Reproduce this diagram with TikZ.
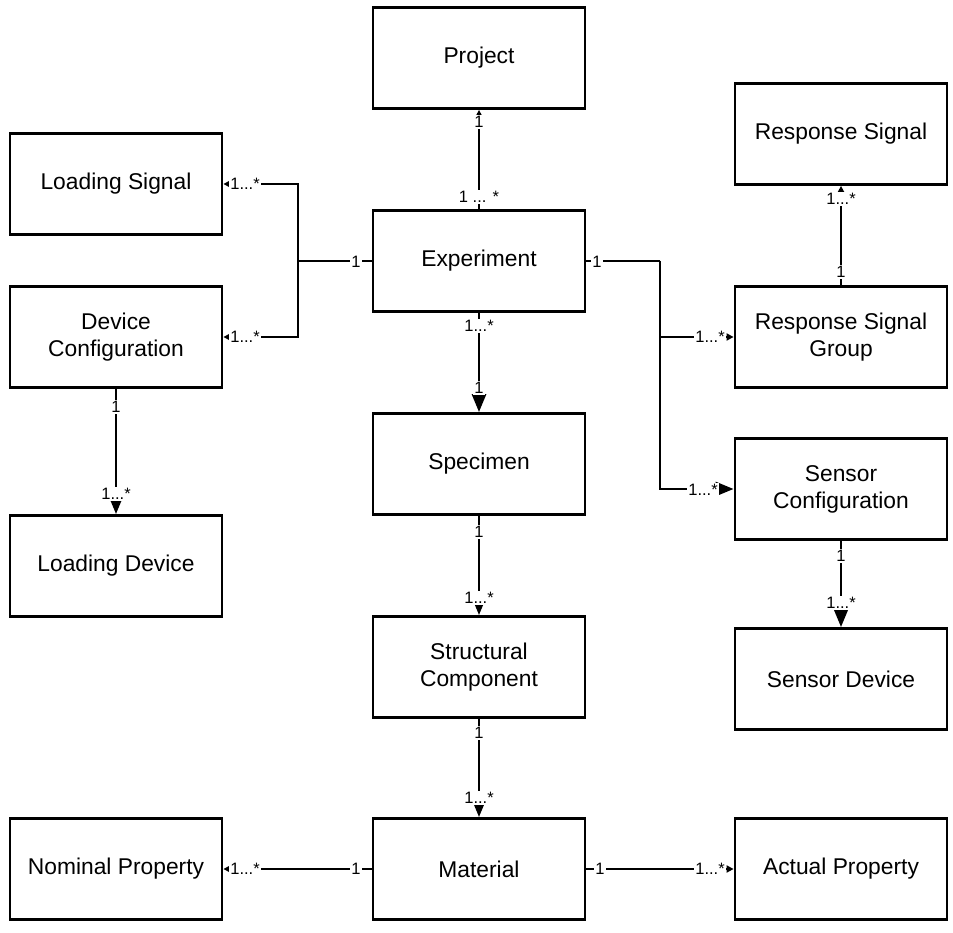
\documentclass[tikz,border=0pt]{standalone}
\usepackage{fontspec}
\setmainfont{Liberation Sans}
\usetikzlibrary{arrows.meta}
\begin{document}
\begin{tikzpicture}[x=1pt,y=-1pt,
  box/.style={draw,line width=2.8pt,minimum width=212pt,minimum height=101pt,font=\fontsize{22.8}{27}\selectfont,align=center,inner sep=0pt},
  lab/.style={fill=white,inner sep=1pt,font=\fontsize{16.5}{18}\selectfont},
  conn/.style={line width=2.8pt},
  big/.style={conn,-{Triangle[width=14pt,length=18pt]}},
  small/.style={conn,-{Triangle[width=7pt,length=7pt]}}]
\useasboundingbox (0,0) rectangle (953,933);
\node[box] (proj) at (479,58) {Project};
\node[box] (ls) at (116,184) {Loading Signal};
\node[box] (rs) at (841,134) {Response Signal};
\node[box] (exp) at (479,261) {Experiment};
\node[box] (dc) at (116,337) {Device\\Configuration};
\node[box] (rsg) at (841,337) {Response Signal\\Group};
\node[box] (spec) at (479,464) {Specimen};
\node[box] (sc) at (841,489) {Sensor\\Configuration};
\node[box] (ld) at (116,566) {Loading Device};
\node[box] (struct) at (479,667) {Structural\\Component};
\node[box] (sd) at (841,679) {Sensor Device};
\node[box] (np) at (116,869) {Nominal Property};
\node[box] (mat) at (479,869) {Material};
\node[box] (ap) at (841,869) {Actual Property};
\coordinate (jl) at (298,261);
\coordinate (jr) at (660,261);
% Experiment -> Project
\draw[small] (exp.north) -- (proj.south);
\node[lab] at (479,122) {1};
\node[lab] at (479,197) {1 ... *};
% Experiment -> Loading Signal / Device Config
\draw[conn] (exp.west) -- (jl);
\draw[small] (jl) |- (ls.east);
\draw[small] (jl) |- (dc.east);
\node[lab] at (356,262) {1};
\node[lab] at (245,184) {1...*};
\node[lab] at (245,337) {1...*};
% Experiment -> RSG / Sensor Config
\draw[conn] (exp.east) -- (jr);
\draw[small] (jr) |- (rsg.west);
\draw[big] (jr) |- (sc.west);
\node[lab] at (597,262) {1};
\node[lab] at (710,337) {1...*};
\node[lab] at (703,490) {1...*};
% Experiment -> Specimen
\draw[big] (exp.south) -- (spec.north);
\node[lab] at (479,326) {1...*};
\node[lab] at (479,388) {1};
% RSG -> Response Signal
\draw[small] (rsg.north) -- (rs.south);
\node[lab] at (841,272) {1};
\node[lab] at (841,199) {1...*};
% Device Config -> Loading Device
\draw[big] (dc.south) -- (ld.north);
\node[lab] at (116,407) {1};
\node[lab] at (116,494) {1...*};
% Specimen -> Structural Component
\draw[big] (spec.south) -- (struct.north);
\node[lab] at (479,532) {1};
\node[lab] at (479,598) {1...*};
% Structural Component -> Material
\draw[big] (struct.south) -- (mat.north);
\node[lab] at (479,733) {1};
\node[lab] at (479,798) {1...*};
% Sensor Config -> Sensor Device
\draw[big] (sc.south) -- (sd.north);
\node[lab] at (841,556) {1};
\node[lab] at (841,603) {1...*};
% Material -> properties
\draw[small] (mat.west) -- (np.east);
\node[lab] at (356,869) {1};
\node[lab] at (245,869) {1...*};
\draw[small] (mat.east) -- (ap.west);
\node[lab] at (600,869) {1};
\node[lab] at (710,869) {1...*};
\end{tikzpicture}
\end{document}
